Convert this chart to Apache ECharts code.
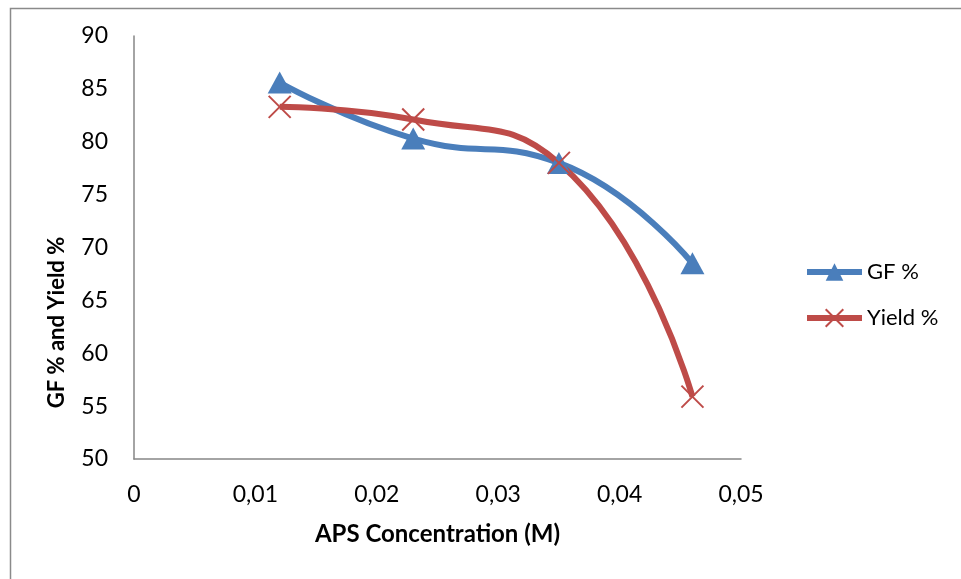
<!DOCTYPE html>
<html>
<head>
<meta charset="utf-8">
<script src="https://cdn.jsdelivr.net/npm/echarts@6/dist/echarts.min.js"></script>
<style>html,body{margin:0;padding:0;background:#fff}#c{width:961px;height:579px}</style>
</head>
<body>
<div id="c"></div>
<script>
const concentrations = [0.012, 0.023, 0.035, 0.046];
const gfPercent = [85.6, 80.3, 78.0, 68.5];
const yieldPercent = [83.3, 82.1, 78.0, 55.9];
const seriesNames = ['GF %', 'Yield %'];
const xTitle = 'APS Concentration (M)';
const yTitle = 'GF % and Yield %';

const FONT = 'Lato';
const blue = '#4A7EBB';
const red = '#BE4B48';
const chart = echarts.init(document.getElementById('c'));
chart.setOption({
  animation: false,
  backgroundColor: '#fff',
  graphic: [{
    type: 'rect', left: 8, top: 6, shape: { width: 1000, height: 620 },
    style: { fill: 'none', stroke: '#8a8a8a', lineWidth: 1.5 }, silent: true, z: -1
  }],
  grid: { left: 134, top: 36, right: 220, bottom: 120, containLabel: false },
  legend: {
    orient: 'vertical', left: 799, top: 256,
    itemWidth: 55, itemHeight: 22, itemGap: 24,
    lineStyle: { width: 6 },
    textStyle: { fontFamily: FONT, fontSize: 22, color: '#000' },
    data: seriesNames
  },
  xAxis: {
    type: 'value', min: 0, max: 0.05, interval: 0.01,
    name: xTitle, nameLocation: 'middle', nameGap: 63,
    nameTextStyle: { fontFamily: FONT, fontSize: 24, fontWeight: 'bold', color: '#000' },
    axisLine: { show: true, lineStyle: { color: '#868686', width: 1.5 } },
    axisTick: { show: false },
    splitLine: { show: false },
    axisLabel: {
      fontFamily: FONT, fontSize: 23, color: '#000', margin: 24,
      formatter: v => v === 0 ? '0' : v.toFixed(2).replace('.', ',')
    }
  },
  yAxis: {
    type: 'value', min: 50, max: 90, interval: 5,
    name: yTitle, nameLocation: 'middle', nameGap: 66, nameRotate: 90,
    nameTextStyle: { fontFamily: FONT, fontSize: 22, fontWeight: 'bold', color: '#000', padding: [0, 150, 0, 0] },
    axisLine: { show: true, lineStyle: { color: '#868686', width: 1.5 } },
    axisTick: { show: false },
    splitLine: { show: false },
    axisLabel: { fontFamily: FONT, fontSize: 23, color: '#000', margin: 26 }
  },
  series: [
    {
      name: seriesNames[0], type: 'line', smooth: 0.5,
      data: concentrations.map((x, i) => [x, gfPercent[i]]),
      symbol: 'triangle', symbolSize: [24, 22],
      lineStyle: { color: blue, width: 6 },
      itemStyle: { color: blue }
    },
    {
      name: seriesNames[1], type: 'line', smooth: 0.5,
      data: concentrations.map((x, i) => [x, yieldPercent[i]]),
      symbol: 'path://M0,0L10,10M10,0L0,10', symbolSize: [22, 22],
      lineStyle: { color: red, width: 6 },
      itemStyle: { color: red, borderColor: red, borderWidth: 2 }
    }
  ]
});
</script>
</body>
</html>
